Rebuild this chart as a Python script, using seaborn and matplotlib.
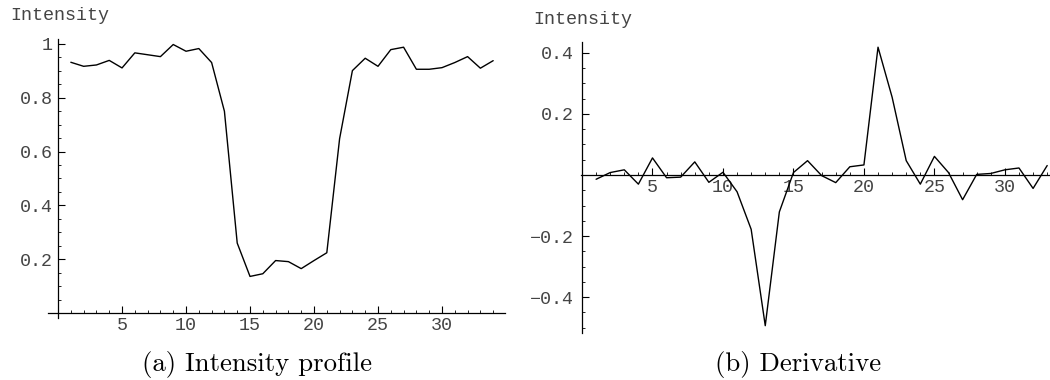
import matplotlib
matplotlib.use("Agg")
import matplotlib.pyplot as plt
import seaborn as sns
import pandas as pd
import numpy as np
from matplotlib.ticker import FixedLocator, MultipleLocator, FixedFormatter

sns.set_theme(style="white")
plt.rcParams['font.family'] = ['Liberation Mono', 'DejaVu Sans Mono']

# ---- data ----
pos_a = list(range(1, 35))
intensity = [0.932, 0.917, 0.922, 0.939, 0.911, 0.967, 0.960, 0.953, 0.998, 0.973,
             0.983, 0.931, 0.750, 0.260, 0.136, 0.146, 0.195, 0.191, 0.165, 0.195,
             0.224, 0.648, 0.901, 0.947, 0.917, 0.979, 0.988, 0.906, 0.906, 0.912,
             0.931, 0.953, 0.910, 0.938]

pos_b = list(range(1, 34))
derivative = [-0.014, 0.008, 0.017, -0.030, 0.056, -0.009, -0.007, 0.043, -0.024, 0.009,
              -0.055, -0.178, -0.494, -0.121, 0.008, 0.047, -0.002, -0.025, 0.027, 0.033,
              0.419, 0.255, 0.047, -0.030, 0.061, 0.008, -0.081, 0.002, 0.005, 0.017,
              0.023, -0.044, 0.031]

xticks = [5, 10, 15, 20, 25, 30]
xtick_labels = ["5", "10", "15", "20", "25", "30"]
yticks_a = [0.2, 0.4, 0.6, 0.8, 1.0]
ytick_labels_a = ["0.2", "0.4", "0.6", "0.8", "1"]
yticks_b = [-0.4, -0.2, 0.2, 0.4]
ytick_labels_b = ["\u22120.4", "\u22120.2", "0.2", "0.4"]
ylabel = "Intensity"
caption_a = "(a) Intensity profile"
caption_b = "(b) Derivative"

df_a = pd.DataFrame({"x": pos_a, "y": intensity})
df_b = pd.DataFrame({"x": pos_b, "y": derivative})

W, H = 1050, 380
fig = plt.figure(figsize=(W / 100, H / 100), dpi=100)

ax1 = fig.add_axes([47.8 / W, (H - 318.4) / H, 456.9 / W, (318.4 - 38.6) / H])
ax2 = fig.add_axes([581.3 / W, (H - 332.7) / H, (1050 - 581.3) / W, (332.7 - 41.7) / H])

tick_color = "#444444"
TS = 13.2

def style(ax, xl, yl, yt, ytl, ypad):
    ax.set_facecolor("none")
    ax.set_xlim(*xl)
    ax.set_ylim(*yl)
    ax.spines['left'].set_position(('data', 0))
    ax.spines['bottom'].set_position(('data', 0))
    for s in ['top', 'right']:
        ax.spines[s].set_visible(False)
    for s in ['left', 'bottom']:
        ax.spines[s].set_color("black")
        ax.spines[s].set_linewidth(0.9)
    ax.xaxis.set_major_locator(FixedLocator(xticks))
    ax.xaxis.set_major_formatter(FixedFormatter(xtick_labels))
    ax.xaxis.set_minor_locator(MultipleLocator(1))
    ax.yaxis.set_major_locator(FixedLocator(yt))
    ax.yaxis.set_major_formatter(FixedFormatter(ytl))
    ax.yaxis.set_minor_locator(MultipleLocator(0.05))
    ax.tick_params(axis='both', which='both', bottom=True, left=True, top=False, right=False)
    ax.tick_params(axis='both', which='major', direction='in', length=5, width=0.8,
                   color='black', labelcolor=tick_color, labelsize=TS)
    ax.tick_params(axis='both', which='minor', direction='in', length=2.5, width=0.6,
                   color='black')
    ax.tick_params(axis='x', which='major', pad=3)
    ax.tick_params(axis='y', which='major', pad=ypad)
    ax.set_xlabel("")
    ax.set_ylabel("")
    ax.grid(False)

sns.lineplot(data=df_a, x="x", y="y", ax=ax1, color="black", linewidth=1.0)
sns.lineplot(data=df_b, x="x", y="y", ax=ax2, color="black", linewidth=1.0)

style(ax1, (-0.8, 34.9), (-0.02, 1.02), yticks_a, ytick_labels_a, 4)
style(ax2, (-0.05, 33.2), (-0.517, 0.437), yticks_b, ytick_labels_b, 6)

fig.text(10 / W, 1 - 16 / H, ylabel, ha='left', va='center', fontsize=TS, color=tick_color)
fig.text(533 / W, 1 - 20 / H, ylabel, ha='left', va='center', fontsize=TS, color=tick_color)

fig.text(256.5 / W, 1 - 365 / H, caption_a, ha='center', va='center', fontsize=19.3,
         family=['cmr10', 'DejaVu Serif'], color='black')
fig.text(798 / W, 1 - 365 / H, caption_b, ha='center', va='center', fontsize=19.3,
         family=['cmr10', 'DejaVu Serif'], color='black')

fig.savefig("out.png", dpi=100)
